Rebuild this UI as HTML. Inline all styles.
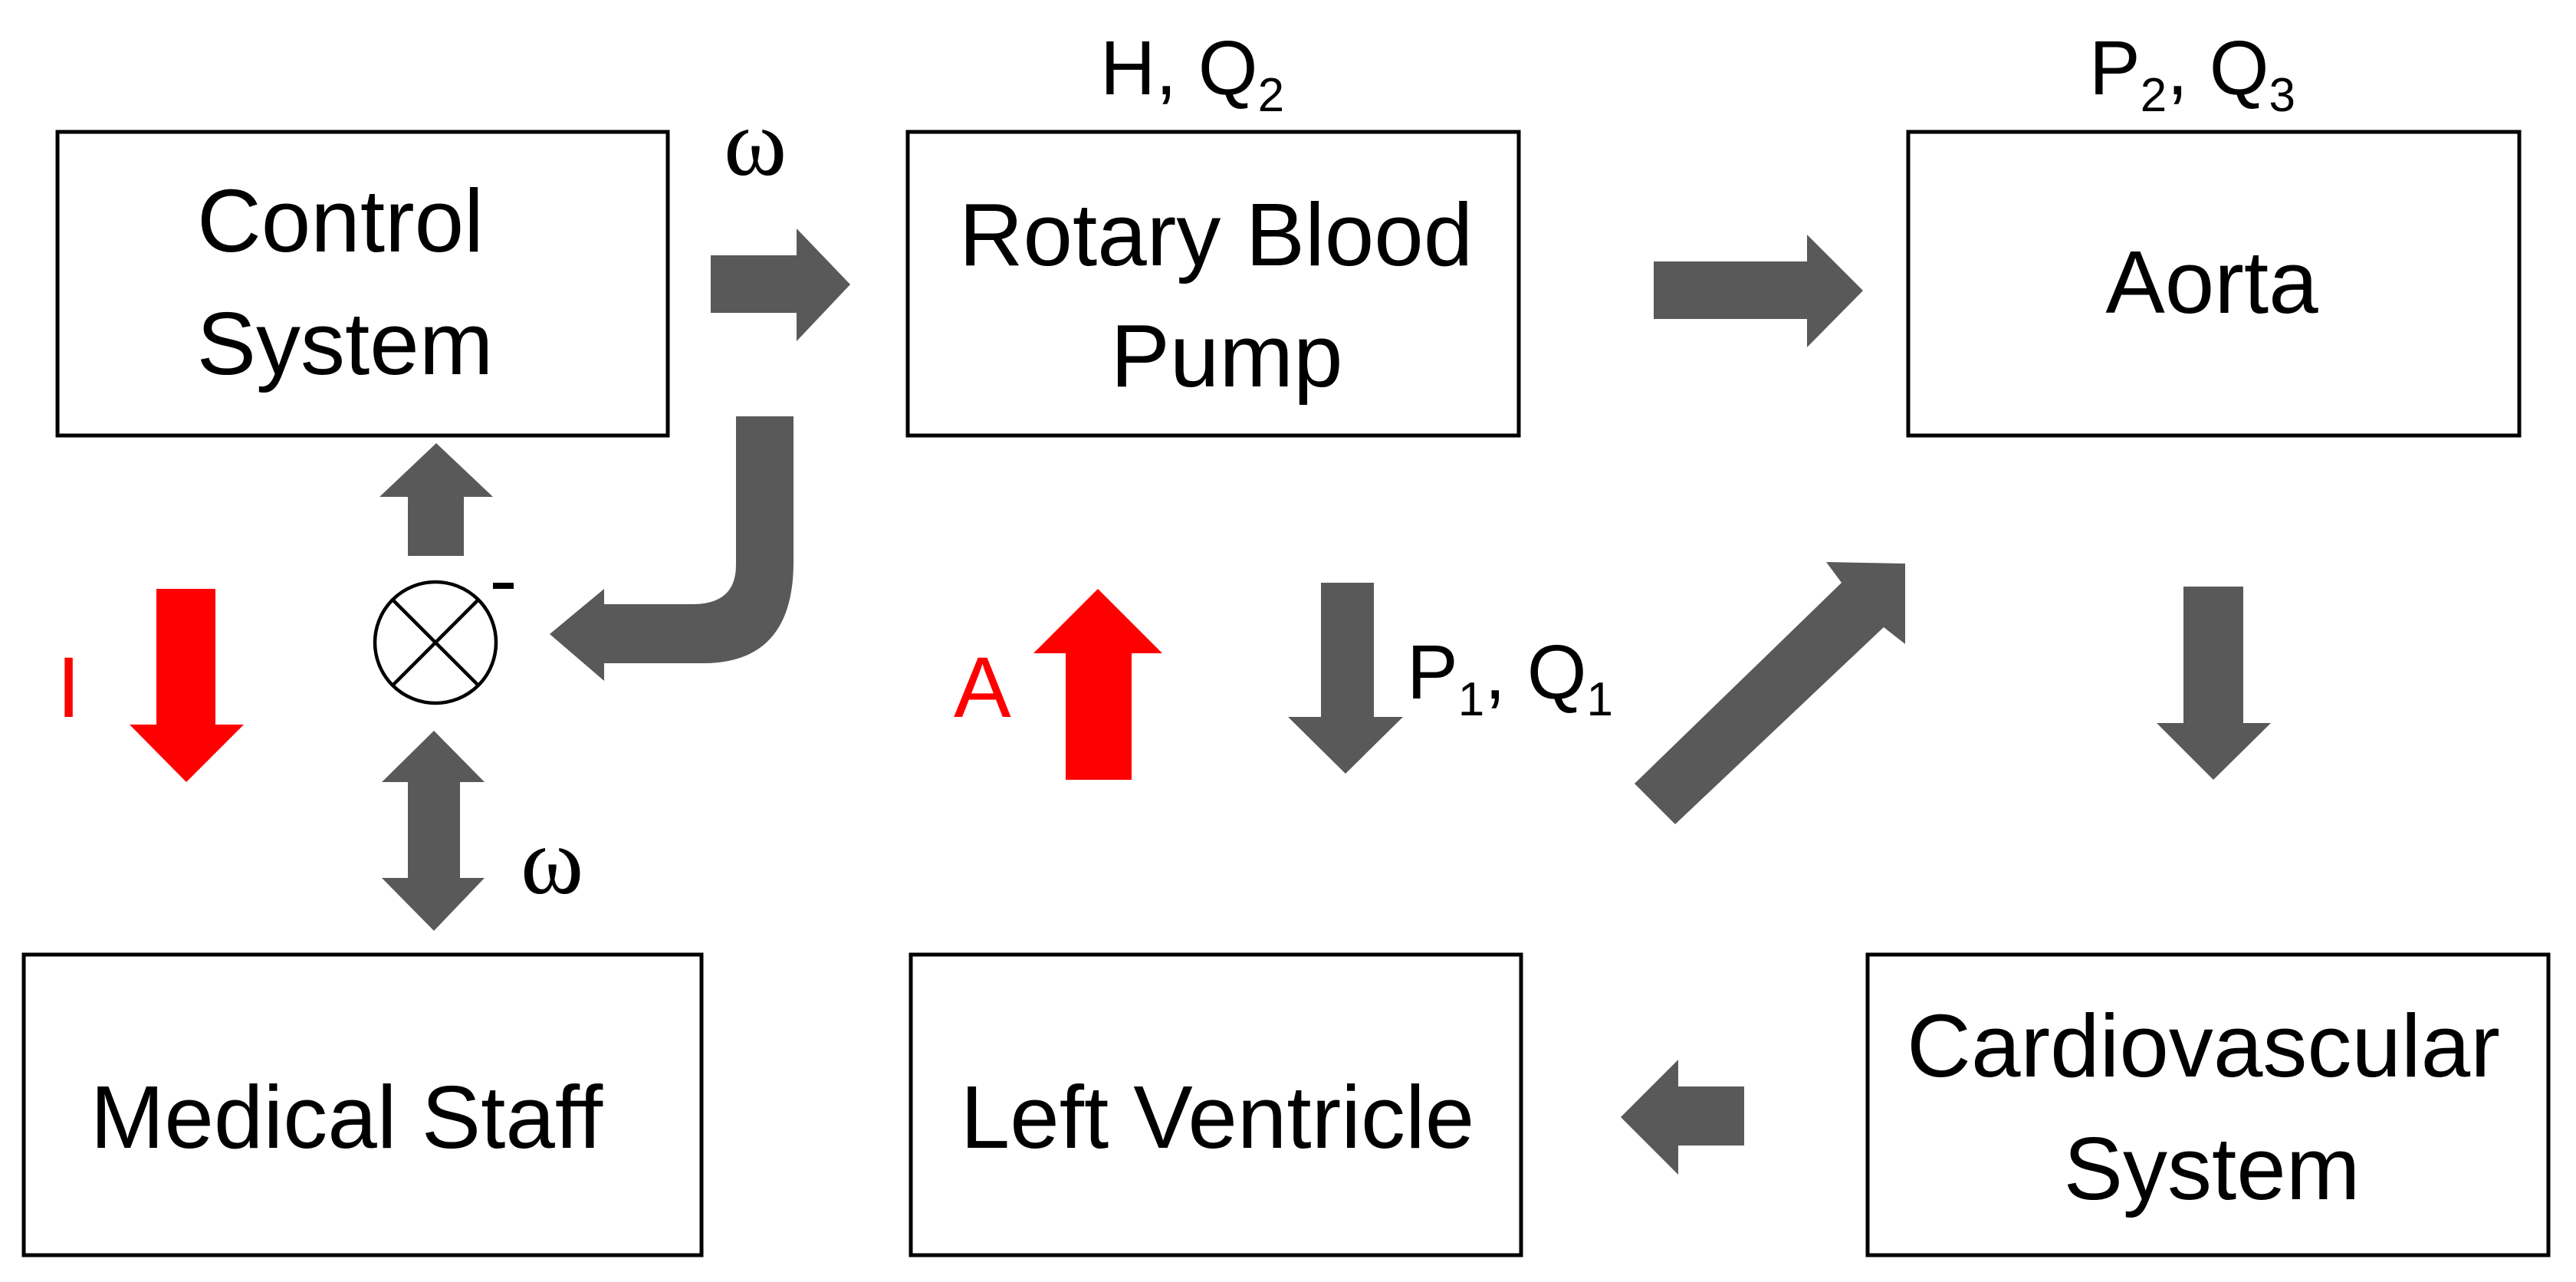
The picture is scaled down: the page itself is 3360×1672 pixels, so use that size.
<!DOCTYPE html>
<html><head><meta charset="utf-8"><style>
html,body{margin:0;padding:0;background:#fff;}
svg{display:block;}
text{font-family:"Liberation Sans",sans-serif;fill:#000;}
</style></head><body>
<svg width="3360" height="1672" viewBox="0 0 3360 1672" xmlns="http://www.w3.org/2000/svg">
<g fill="none" stroke="#000" stroke-width="5">
<rect x="75" y="172" width="796" height="396"/>
<rect x="1184" y="172" width="797" height="396"/>
<rect x="2489" y="172" width="797" height="396"/>
<rect x="31" y="1245" width="884" height="392"/>
<rect x="1188" y="1245" width="796" height="392"/>
<rect x="2436" y="1245" width="888" height="392"/>
<circle cx="568" cy="838" r="79" stroke-width="4.5"/>
<line x1="512" y1="782" x2="624" y2="894" stroke-width="4.5"/>
<line x1="624" y1="782" x2="512" y2="894" stroke-width="4.5"/>
</g>
<rect x="643" y="760" width="27" height="8" fill="#000"/>
<g font-size="116" text-anchor="middle">
<text x="444" y="328">Control</text>
<text x="450" y="488">System</text>
<text x="1586" y="346">Rotary Blood</text>
<text x="1600" y="504">Pump</text>
<text x="2885" y="408">Aorta</text>
<text x="452" y="1497">Medical Staff</text>
<text x="1588" y="1497">Left Ventricle</text>
<text x="2874" y="1404">Cardiovascular</text>
<text x="2885" y="1564">System</text>
</g>
<g font-size="100">
<text x="1435" y="123">H, Q<tspan font-size="62" dy="22">2</tspan></text>
<text x="2725" y="123">P<tspan font-size="62" dy="22">2</tspan><tspan dy="-22">, Q</tspan><tspan font-size="62" dy="22">3</tspan></text>
<text x="1835" y="911">P<tspan font-size="62" dy="22">1</tspan><tspan dy="-22">, Q</tspan><tspan font-size="62" dy="22">1</tspan></text>
</g>
<text x="944" y="228" font-size="125" style="font-family:'Liberation Serif',serif">ω</text>
<text x="679" y="1165" font-size="125" style="font-family:'Liberation Serif',serif">ω</text>
<text x="74" y="935" font-size="112" style="fill:#f00">I</text>
<text x="1244" y="935" font-size="112" style="fill:#f00">A</text>
<g fill="#595959">
<polygon points="927,333 1039,333 1039,298 1109,371 1039,445 1039,408 927,408"/>
<polygon points="2157,341 2357,341 2357,306 2430,379 2357,453 2357,416 2157,416"/>
<path d="M960,543 L1035,543 L1035,733 Q1035,865 917,865 L788,865 L788,888 L717,827 L788,768 L788,788 L903,788 Q960,788 960,737 Z"/>
<polygon points="532,725 605,725 605,648 643,648 569,578 495,648 532,648"/>
<polygon points="566,953 632,1020 600,1020 600,1145 632,1145 566,1214 498,1145 532,1145 532,1020 498,1020"/>
<polygon points="1723,760 1792,760 1792,935 1830,935 1755,1009 1680,935 1723,935"/>
<polygon points="2132,1022 2402,760 2382,733 2485,735 2485,840 2457,818 2185,1075"/>
<polygon points="2848,765 2926,765 2926,943 2962,943 2887,1017 2813,943 2848,943"/>
<polygon points="2275,1417 2275,1494 2189,1494 2189,1532 2114,1457 2189,1382 2189,1417"/>
</g>
<g fill="#f00">
<polygon points="204,768 281,768 281,945 318,945 243,1020 169,945 204,945"/>
<polygon points="1390,1017 1476,1017 1476,852 1516,852 1432,768 1348,852 1390,852"/>
</g>
</svg>
</body></html>
